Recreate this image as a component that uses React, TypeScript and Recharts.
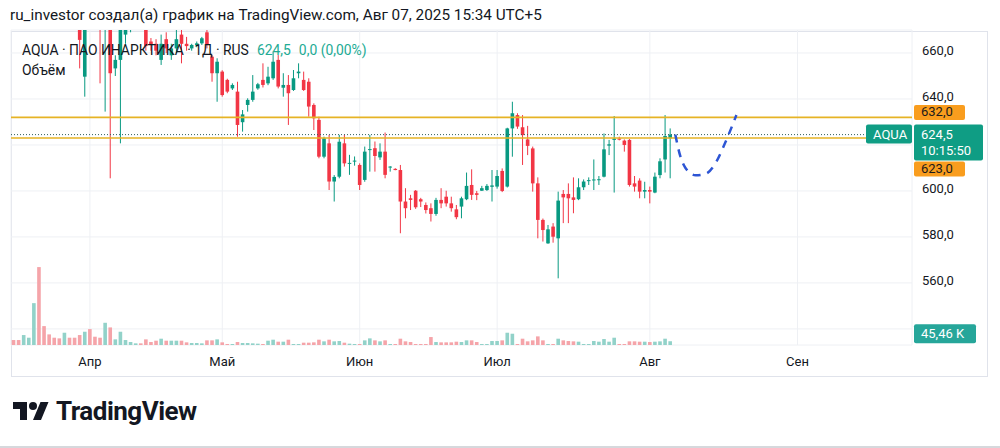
import React from 'react';
import { ComposedChart, Bar, Line, XAxis, YAxis, CartesianGrid, ReferenceLine } from 'recharts';

const opens = [700,697,692,697,700,714,695,688,686,685,683,690,687,684,649.7,679,675,676,670,676,653.3,657,668,671,672,672.3,671,665,664,657,666,659,662,668,664,662,663.5,664.2,669,658.4,651.2,651.9,648.3,644.6,643.2,629.9,637.4,639.6,644.6,648.3,646.8,649,657,644.9,646.1,643.9,651.2,648.3,647.5,637.4,630.9,614.9,620.7,604.1,606.2,620.7,611.8,612.8,611.3,604.8,617.8,618.6,614.6,617.1,610.4,609.6,609.1,595.4,596.8,600.1,596.4,593.9,592.5,590,596.1,597.5,594.6,592,593.2,596.4,602.6,599,600.1,600.4,601.8,601.9,608.7,601.9,627.2,633,627.7,622.4,618.5,603.3,587.4,577.2,584.5,579.4,598.7,598.7,597.2,596.4,601.6,604.4,604.7,604.8,606.2,619.7,622.2,622.8,621.9,622.2,603.3,604.5,599.7,600.4,599.3,606.9,613.7,622.9];
const highs = [703,699,699,704,720,722,698,691,689,687,693,692,690,686,678,684,678,680,679,678,659,674,675,674,673,673,673,666.5,666,668,669,664,670,671,667,664,665,667,671,659.1,657.7,652.5,648.8,646.8,647.5,635.2,640.3,650.4,647,655.5,654,660.6,659.1,651.2,650.4,652.6,655.5,651.9,649,638.1,632.3,623.6,624.4,606.9,624.4,624.4,615.7,615,612,619.3,624.4,621.5,620.7,625.4,610.8,609.9,611.3,601.2,598.3,600.4,597,595,594.6,597,601.2,600.1,597.5,593.9,597.5,608,609.4,600,602.2,603,609.1,609.1,609.8,627.5,638.8,633.8,633,628.3,619.3,605.9,588,585.2,586,599.7,600.4,603.3,605.9,605.5,605,605.9,613.7,606.5,625,622.2,632.6,623.6,622.4,622.6,606.5,605.5,604,601.9,608,614.2,633,627.2];
const lows = [694,690,690,695,699,690,684,682,681,680,681,684,680,653.3,641,671,671,646.8,634.5,605.5,650,620.7,664,669,670.5,671,661,661,659,654.8,660,657,660,655.5,661,661,662.5,663.5,662,647.5,638.8,641,642.5,643.9,623.6,625.8,634.5,638.8,644,645,646,648.3,644.6,641,628.7,643.5,649,643.5,632.3,626.5,614.2,614.2,600.4,595.4,605.5,610.6,607,611,600.4,604,608.4,608.4,613.5,605.5,608.4,609,581.6,588.1,591.7,592.2,593,590.2,586.7,589.2,592.5,593.2,591,587.7,588.1,596,596.1,596,600,600,595.4,601,599.5,601.5,614.9,627,611.3,615.6,599.7,579.4,578,577,577.5,562,586,586,590.3,596,600.4,602.6,600.4,602.6,605.9,615.6,599.3,622,617.1,601.9,599.7,596.8,596.8,594.6,599,605.5,608,605.5];
const closes = [696,693,697,701,715,695,688,685,684,683,690,687,684,665.7,675,674,672,670,676,651.2,657,670,672,672,672.3,672,663,663.5,661,664,662,662,666,664,663,663.5,664.2,666.4,663.5,651.2,656.2,641.7,643.2,646.1,628.7,633.3,639.6,643.2,646.4,646.1,649.7,656.2,645.4,646.1,642.5,649,651.9,643.9,636.7,631.6,614.9,622.9,604.1,606.1,621.4,612,612.2,613.2,602.6,617.1,618.2,615.2,617.1,607,610.6,609.1,595.4,592.5,596.1,592.9,595.4,591.7,590,596.1,594.6,594.6,592.5,588.6,596.8,602.2,598.3,598.3,601.2,602.2,602.4,606.5,600,627.2,633.8,628,624.3,619.6,603.3,587.4,583,583.3,580.1,595.8,597.2,596.8,596.1,601.6,604.1,604.7,605,605.1,618.1,620.3,622.8,622.3,620,602.6,601.9,599.7,600.4,599.7,606.2,612.9,623.9,624.5];
const volumes = [60,60,120,88,505,940,228,128,88,80,148,88,88,120,160,192,100,88,268,212,68,160,60,36,20,20,68,36,52,76,52,52,52,52,32,24,24,20,56,56,68,32,12,12,36,24,24,20,16,12,52,64,40,40,64,12,12,28,28,32,64,44,64,44,48,28,16,12,12,56,80,56,44,56,12,12,76,44,36,12,12,12,96,36,32,32,32,40,36,56,56,36,12,12,48,48,56,148,136,12,76,44,56,104,56,12,12,76,56,48,44,40,12,12,48,40,72,40,88,12,12,44,44,40,40,36,40,44,76,45.46];

const FUTURE_SLOTS = 47;
const monthTicks = [15, 41, 68, 95, 125, 154];
const monthLabels = ['Апр', 'Май', 'Июн', 'Июл', 'Авг', 'Сен'];
const priceTicks = [540, 560, 580, 600, 620, 640, 660];
const hiddenPriceLabels = [540, 620];
const projIdx = [130, 131, 132, 134, 136, 138, 140, 142];
const projVals = [624.5, 615, 610, 606.8, 607.5, 612.5, 622, 633];
const upperLevel = 632;
const lowerLevel = 623;
const lastPrice = 624.5;
const lastTime = '10:15:50';

const UP = '#089981';
const DOWN = '#f23645';
const VUP = '#92d2c9';
const VDOWN = '#f5a4a9';
const ORANGE = '#f99d1e';
const TEAL = '#0f9d84';
const LEVEL = '#e6b325';

const total = opens.length + FUTURE_SLOTS;
const data = Array.from({ length: total }, (_, i) => {
  const has = i < opens.length;
  const pj = projIdx.indexOf(i);
  return {
    i,
    o: has ? opens[i] : null,
    h: has ? highs[i] : null,
    l: has ? lows[i] : null,
    c: has ? closes[i] : null,
    range: has ? [lows[i], highs[i]] : null,
    vol: has ? volumes[i] : null,
    proj: pj >= 0 ? projVals[pj] : null,
  };
});

const fmt = (v: number) => v.toFixed(1).replace('.', ',');

const CandleShape = (props: any) => {
  const { x, y, width, height, payload } = props;
  if (!payload || payload.o == null || height == null) return null;
  const { o, h, l, c } = payload;
  const top0 = Math.min(y, y + height);
  const hh = Math.abs(height);
  const k = hh / (h - l);
  const py = (v: number) => top0 + (h - v) * k;
  const cx = x + width / 2;
  const col = c >= o ? UP : DOWN;
  const bt = py(Math.max(o, c));
  const bb = py(Math.min(o, c));
  const bw = 3.6;
  return (
    <g>
      <line x1={cx} x2={cx} y1={top0} y2={top0 + hh} stroke={col} strokeWidth={1} />
      <rect x={cx - bw / 2} y={bt} width={bw} height={Math.max(bb - bt, 1)} fill={col} />
    </g>
  );
};

const VolShape = (props: any) => {
  const { x, y, width, height, payload } = props;
  if (!payload || payload.vol == null) return null;
  const cx = x + width / 2;
  const col = payload.c >= payload.o ? VUP : VDOWN;
  const t = Math.min(y, y + height);
  return <rect x={cx - 1.8} y={t} width={3.6} height={Math.max(Math.abs(height), 1)} fill={col} />;
};

const PriceTick = (props: any) => {
  const { x, y, payload } = props;
  const v = Number(payload.value);
  if (hiddenPriceLabels.includes(v)) return null;
  return (
    <text x={x} y={y} dy={2.5} fontSize={13} fill="#131722" textAnchor="start">{fmt(v)}</text>
  );
};

const MonthTick = (props: any) => {
  const { x, y, payload } = props;
  const idx = monthTicks.indexOf(Number(payload.value));
  return (
    <text x={x} y={y} dy={13} fontSize={13} fill="#131722" textAnchor="middle">{idx >= 0 ? monthLabels[idx] : ''}</text>
  );
};

const orangeTag = (text: string, dy: number) => (props: any) => {
  const vb = props.viewBox || {};
  const x0 = vb.x + vb.width + 2;
  const y0 = vb.y + dy;
  return (
    <g>
      <rect x={x0} y={y0} width={51} height={15} rx={2} fill={ORANGE} />
      <text x={x0 + 7} y={y0 + 11.5} fontSize={13} fill="#1b1b1b">{text}</text>
    </g>
  );
};

const lastTag = (props: any) => {
  const vb = props.viewBox || {};
  const xr = vb.x + vb.width;
  const y0 = vb.y;
  return (
    <g>
      <rect x={xr - 46} y={y0 - 10} width={46} height={19} rx={2} fill={TEAL} />
      <text x={xr - 39} y={y0 + 4.5} fontSize={13} fill="#ffffff">AQUA</text>
      <rect x={xr + 2} y={y0 - 10} width={69} height={36} rx={2} fill={TEAL} />
      <text x={xr + 9} y={y0 + 4} fontSize={13} fill="#ffffff">{fmt(lastPrice)}</text>
      <text x={xr + 9} y={y0 + 20} fontSize={13} fill="#ffffff">{lastTime}</text>
    </g>
  );
};

const volTag = (props: any) => {
  const vb = props.viewBox || {};
  const x0 = vb.x + vb.width + 2;
  const y0 = vb.y - 17;
  const last = volumes[volumes.length - 1];
  return (
    <g>
      <rect x={x0} y={y0} width={62} height={19} rx={2} fill="#26a69a" />
      <text x={x0 + 7} y={y0 + 14} fontSize={13} fill="#ffffff">{last.toFixed(2).replace('.', ',') + ' K'}</text>
    </g>
  );
};

const TVLogo = () => (
  <svg width={36} height={28} viewBox="0 0 36 28" style={{ position: 'absolute', left: 13, top: 398 }}>
    <path d="M14 22H7V11H0V4h14v18zM28 22h-8l7.5-18h8L28 22z" fill="#131722" />
    <circle cx={20} cy={8} r={4} fill="#131722" />
  </svg>
);

export default function App() {
  return (
    <div style={{ position: 'fixed', left: 0, top: 0, width: 1000, height: 448, background: '#ffffff', overflow: 'hidden', fontFamily: 'Roboto, sans-serif' }}>
      <div style={{ position: 'absolute', left: 10, top: 6, fontSize: 15.3, lineHeight: '18px', color: '#131722', whiteSpace: 'nowrap' }}>
        ru_investor создал(а) график на TradingView.com, Авг 07, 2025 15:34 UTC+5
      </div>
      <div style={{ position: 'absolute', left: 11, top: 31, width: 977, height: 346, border: '1px solid #e0e3eb', boxSizing: 'border-box' }} />
      <div style={{ position: 'absolute', left: 0, top: 0 }}>
        <ComposedChart width={1000} height={376} data={data} margin={{ top: 30, right: 13, bottom: 0, left: 11 }}>
          <XAxis xAxisId="p" dataKey="i" type="category" ticks={monthTicks} interval={0}
            axisLine={false} tickLine={false} height={31} tick={MonthTick} />
          <XAxis xAxisId="v" dataKey="i" type="category" hide />
          <YAxis yAxisId="price" orientation="right" domain={[533, 670]} allowDataOverflow ticks={priceTicks}
            axisLine={false} tickLine={false} width={75} tickMargin={4} tick={PriceTick} />
          <YAxis yAxisId="vol" domain={[0, 3800]} hide />
          <CartesianGrid xAxisId="p" yAxisId="price" stroke="#eef0f4" />
          <Bar xAxisId="v" yAxisId="vol" dataKey="vol" shape={VolShape} isAnimationActive={false} />
          <Bar xAxisId="p" yAxisId="price" dataKey="range" shape={CandleShape} isAnimationActive={false} />
          <ReferenceLine xAxisId="p" yAxisId="price" y={upperLevel} stroke={LEVEL} strokeWidth={1.6} label={orangeTag(fmt(upperLevel), -12.4)} />
          <ReferenceLine xAxisId="p" yAxisId="price" y={lowerLevel} stroke={LEVEL} strokeWidth={1.6} label={orangeTag(fmt(lowerLevel), 23.4)} />
          <ReferenceLine xAxisId="p" yAxisId="price" y={lastPrice} stroke="#2f5f5b" strokeWidth={1} strokeDasharray="1 2" label={lastTag} />
          <ReferenceLine xAxisId="v" yAxisId="vol" y={volumes[volumes.length - 1]} stroke="none" strokeOpacity={0} label={volTag} />
          <Line xAxisId="p" yAxisId="price" dataKey="proj" type="monotone" connectNulls dot={false}
            stroke="#2d55d4" strokeWidth={2.5} strokeDasharray="8 7" isAnimationActive={false} />
        </ComposedChart>
      </div>
      <div style={{ position: 'absolute', left: 22, top: 42, fontSize: 13.9, lineHeight: '17px', color: '#131722', whiteSpace: 'nowrap' }}>
        AQUA · ПАО ИНАРКТИКА · 1Д · RUS
        <span style={{ color: '#22ab94', marginLeft: 8 }}>{fmt(lastPrice)}</span>
        <span style={{ color: '#22ab94', marginLeft: 8 }}>0,0 (0,00%)</span>
      </div>
      <div style={{ position: 'absolute', left: 22, top: 62, fontSize: 13.9, lineHeight: '17px', color: '#131722' }}>Объём</div>
      <TVLogo />
      <div style={{ position: 'absolute', left: 56, top: 396, fontSize: 26, lineHeight: '30px', fontWeight: 700, color: '#131722', letterSpacing: -0.5 }}>TradingView</div>
      <div style={{ position: 'absolute', left: 0, top: 446, width: 1000, height: 2, background: '#d6d8dc' }} />
    </div>
  );
}
